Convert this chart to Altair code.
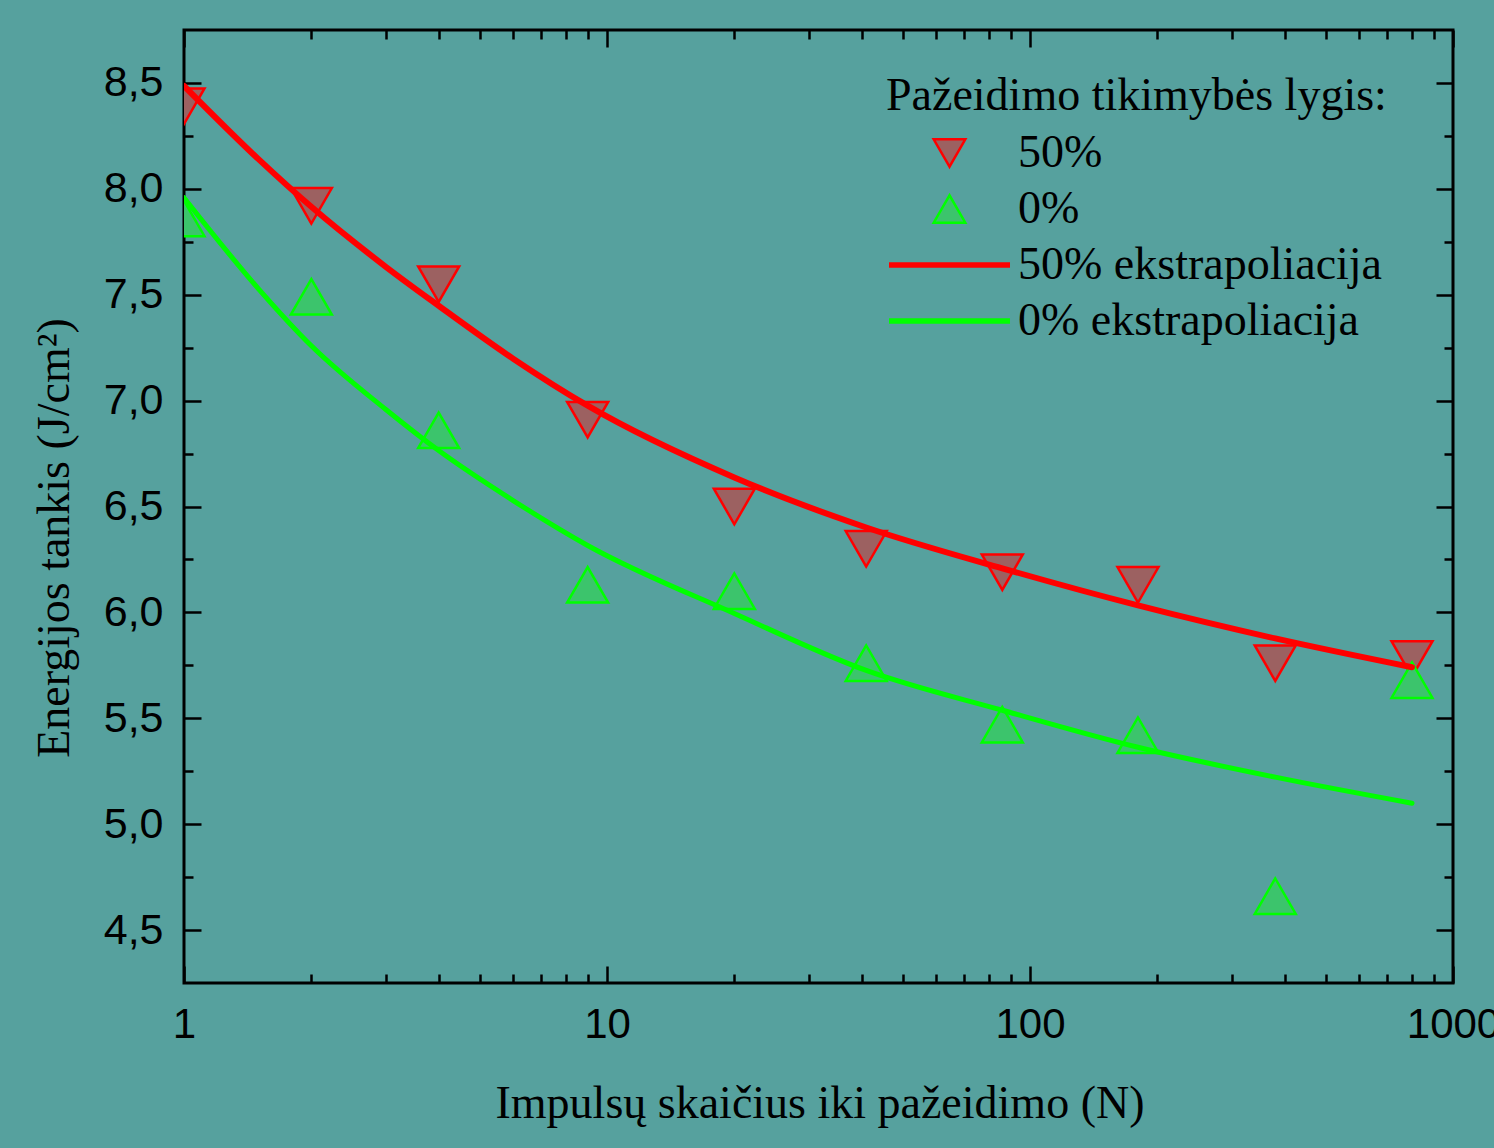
import altair as alt
import pandas as pd

# ---- data ----
n_pulses = [1, 2, 4, 9, 20, 41, 86, 180, 380, 800]
fluence_50 = [8.39, 7.92, 7.55, 6.91, 6.50, 6.30, 6.19, 6.13, 5.76, 5.78]
fluence_0 = [7.86, 7.49, 6.86, 6.13, 6.10, 5.76, 5.47, 5.42, 4.66, 5.68]

curve_n = [1, 1.5, 2, 3, 4, 6, 9, 20, 41, 86, 180, 380, 800]
curve_50 = [8.486, 8.14, 7.915, 7.632, 7.448, 7.198, 6.976, 6.637, 6.401, 6.208, 6.033, 5.877, 5.741]
curve_0 = [7.958, 7.528, 7.259, 6.958, 6.764, 6.528, 6.316, 5.995, 5.726, 5.538, 5.363, 5.222, 5.099]

legend_series = ["50%", "0%", "50% ekstrapoliacija", "0% ekstrapoliacija"]
legend_fill = ["#9c6161", "#3cc46c", "transparent", "transparent"]
legend_stroke = ["#ff0000", "#00ff00", "#ff0000", "#00ff00"]
legend_shape = ["triangle-down", "triangle-up", "stroke", "stroke"]
legend_size = [1000, 1000, 14641, 14641]
legend_width = [2.5, 2.5, 5.5, 5.5]

x_major = [1, 10, 100, 1000]
x_minor = [2, 3, 4, 5, 6, 7, 8, 9, 20, 30, 40, 50, 60, 70, 80, 90,
           200, 300, 400, 500, 600, 700, 800, 900]
y_major = [4.5, 5.0, 5.5, 6.0, 6.5, 7.0, 7.5, 8.0, 8.5]
y_minor = [4.75, 5.25, 5.75, 6.25, 6.75, 7.25, 7.75, 8.25]

x_title = "Impulsų skaičius iki pažeidimo (N)"
y_title = "Energijos tankis (J/cm²)"
legend_title = "Pažeidimo tikimybės lygis:"

# ---- tables ----
pts = pd.DataFrame({"n": n_pulses, "f50": fluence_50, "f0": fluence_0})
crv = pd.DataFrame({"n": curve_n, "c50": curve_50, "c0": curve_0})
leg = pd.DataFrame({"series": legend_series, "n": [10] * 4, "v": [6.0] * 4})

W, H = 1269, 953
xs = alt.Scale(type="log", domain=[1, 1000], nice=False)
ys = alt.Scale(domain=[4.25, 8.75], nice=False, zero=False)

SANS = "Liberation Sans"
SERIF = "Liberation Serif"


def tick_axis(orient, values, size):
    return alt.Axis(orient=orient, values=values, offset=-size, tickSize=size,
                    tickWidth=2.5, tickColor="black", labels=False, domain=False,
                    grid=False, title=None)


def axis_layer(ax_x, ax_y):
    return alt.Chart(pts).mark_point(opacity=0).encode(
        x=alt.X("n:Q", scale=xs, axis=ax_x),
        y=alt.Y("f50:Q", scale=ys, axis=ax_y),
    )


label_x = alt.Axis(orient="bottom", values=x_major, ticks=False, domain=False, grid=False,
                   labelFont=SANS, labelFontSize=42, labelColor="black", labelPadding=21,
                   labelFlush=False, labelOverlap=False,
                   labelExpr="format(datum.value, 'd')",
                   title=x_title, titleFont=SERIF, titleFontSize=46, titleFontWeight="normal",
                   titleColor="black", titleX=W / 2 + 1, titleY=98, titleBaseline="top",
                   titleAlign="center")
label_y = alt.Axis(orient="left", values=y_major, ticks=False, domain=False, grid=False,
                   labelFont=SANS, labelFontSize=43, labelColor="black", labelPadding=21,
                   labelFlush=False, labelOverlap=False,
                   labelExpr="replace(format(datum.value, '.1f'), '.', ',')",
                   title=y_title, titleFont=SERIF, titleFontSize=46, titleFontWeight="normal",
                   titleColor="black", titleX=-106, titleY=H / 2 + 31, titleAngle=270,
                   titleBaseline="bottom", titleAlign="center")

layers = [
    axis_layer(label_x, label_y),
    axis_layer(tick_axis("bottom", x_major, 17), tick_axis("left", y_major, 17)),
    axis_layer(tick_axis("bottom", x_minor, 9), tick_axis("left", y_minor, 9)),
    axis_layer(tick_axis("top", x_major, 17), tick_axis("right", y_major, 17)),
    axis_layer(tick_axis("top", x_minor, 9), tick_axis("right", y_minor, 9)),
]

pts50 = alt.Chart(pts).mark_point(shape="triangle-down", filled=True, fill="#9c6161",
                                  stroke="#ff0000", strokeWidth=2.5, size=1681, opacity=1,
                                  clip=True).encode(
    x=alt.X("n:Q", scale=xs, axis=None), y=alt.Y("f50:Q", scale=ys, axis=None))
pts0 = alt.Chart(pts).mark_point(shape="triangle-up", filled=True, fill="#3cc46c",
                                 stroke="#00ff00", strokeWidth=2.5, size=1681, opacity=1,
                                 clip=True).encode(
    x=alt.X("n:Q", scale=xs, axis=None), y=alt.Y("f0:Q", scale=ys, axis=None))
line50 = alt.Chart(crv).mark_line(color="#ff0000", strokeWidth=6, interpolate="monotone",
                                  strokeCap="round", clip=True).encode(
    x=alt.X("n:Q", scale=xs, axis=None), y=alt.Y("c50:Q", scale=ys, axis=None))
line0 = alt.Chart(crv).mark_line(color="#00ff00", strokeWidth=5, interpolate="monotone",
                                 strokeCap="round", clip=True).encode(
    x=alt.X("n:Q", scale=xs, axis=None), y=alt.Y("c0:Q", scale=ys, axis=None))

lg = alt.Legend(orient="none", legendX=702, legendY=44, title=legend_title,
                titleFont=SERIF, titleFontSize=46, titleFontWeight="normal", titleColor="black",
                titleLimit=2000, titlePadding=8, titleAnchor="start",
                labelFont=SERIF, labelFontSize=46, labelColor="black", labelLimit=2000,
                labelOffset=5, rowPadding=6, clipHeight=50, padding=0, symbolOpacity=1)

legend_layer = alt.Chart(leg).mark_point(opacity=0, filled=True).encode(
    x=alt.X("n:Q", scale=xs, axis=None),
    y=alt.Y("v:Q", scale=ys, axis=None),
    fill=alt.Fill("series:N", scale=alt.Scale(domain=legend_series, range=legend_fill), legend=lg),
    stroke=alt.Stroke("series:N", scale=alt.Scale(domain=legend_series, range=legend_stroke), legend=lg),
    shape=alt.Shape("series:N", scale=alt.Scale(domain=legend_series, range=legend_shape), legend=lg),
    size=alt.Size("series:N", scale=alt.Scale(type="ordinal", domain=legend_series, range=legend_size), legend=lg),
    strokeWidth=alt.StrokeWidth("series:N", scale=alt.Scale(type="ordinal", domain=legend_series, range=legend_width), legend=lg),
)

chart = alt.layer(*layers, pts50, pts0, line50, line0, legend_layer).resolve_axis(
    x="independent", y="independent"
).properties(
    width=W, height=H,
    padding={"left": 184, "top": 30, "right": 41, "bottom": 165},
    autosize=alt.AutoSizeParams(type="none"),
    background="#56a19e",
).configure_view(stroke="black", strokeWidth=3, fill=None)

chart.save("out.html", embed_options={"renderer": "svg", "actions": False})
